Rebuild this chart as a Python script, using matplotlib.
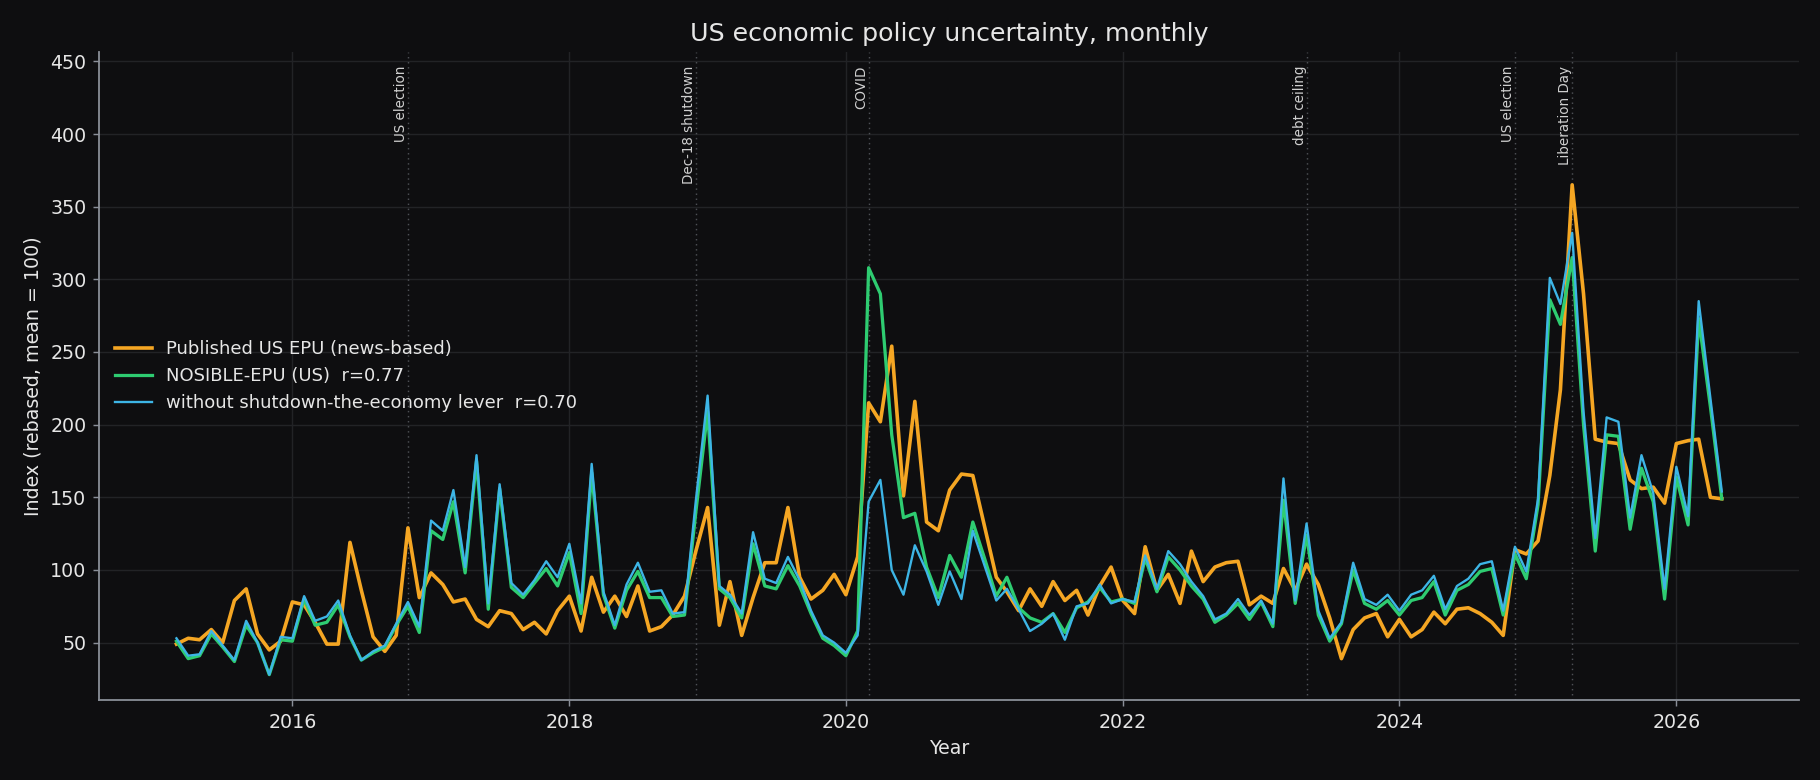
import matplotlib
matplotlib.use("Agg")
import matplotlib.pyplot as plt
import matplotlib.dates as mdates
import pandas as pd
import numpy as np

start_month = "2015-03-01"
n_months = 135

published_epu = [
    49, 53, 52, 59, 50, 79, 87, 56, 45, 51,
    78, 76, 64, 49, 49, 119, 86, 54, 44, 55, 129, 81,
    98, 90, 78, 80, 66, 61, 72, 70, 59, 64, 56, 72,
    82, 58, 95, 71, 82, 68, 89, 58, 61, 69, 82, 113,
    143, 62, 92, 55, 81, 105, 105, 143, 95, 80, 86, 97,
    83, 109, 215, 202, 254, 151, 216, 133, 127, 155, 166, 165,
    130, 95, 85, 72, 87, 75, 92, 79, 86, 69, 89, 102,
    79, 70, 116, 86, 97, 77, 113, 92, 102, 105, 106, 76,
    82, 77, 101, 86, 104, 90, 67, 39, 59, 67, 70, 54,
    66, 54, 59, 71, 63, 73, 74, 70, 64, 55, 114, 111,
    120, 165, 224, 365, 290, 190, 188, 187, 162, 156, 157, 146,
    187, 189, 190, 150, 149,
]

nosible_epu = [
    51, 39, 41, 56, 47, 37, 62, 50, 28, 52,
    51, 80, 62, 64, 76, 54, 38, 43, 47, 62, 75, 57,
    127, 121, 147, 98, 175, 73, 156, 88, 81, 91, 101, 89,
    112, 70, 167, 83, 60, 86, 99, 81, 81, 68, 69, 140,
    209, 87, 81, 67, 118, 89, 87, 103, 89, 70, 53, 48,
    41, 58, 308, 290, 193, 136, 139, 102, 81, 110, 95, 133,
    108, 82, 95, 74, 67, 64, 70, 57, 74, 78, 88, 78,
    80, 77, 108, 85, 109, 100, 89, 80, 64, 69, 77, 66,
    78, 61, 148, 77, 124, 69, 51, 63, 100, 77, 73, 79,
    69, 79, 81, 92, 69, 86, 90, 99, 101, 69, 111, 94,
    145, 286, 269, 315, 200, 113, 193, 192, 128, 170, 147, 80,
    164, 131, 273, 212, 149,
]

without_lever = [
    53, 41, 42, 58, 48, 38, 65, 50, 28, 54,
    53, 82, 65, 68, 79, 55, 38, 44, 48, 63, 78, 61,
    134, 127, 155, 102, 179, 77, 159, 91, 83, 93, 106, 95,
    118, 77, 173, 85, 62, 90, 105, 85, 86, 70, 71, 148,
    220, 89, 83, 70, 126, 94, 91, 109, 93, 72, 55, 50,
    43, 55, 147, 162, 100, 83, 117, 99, 76, 99, 80, 127,
    103, 79, 87, 73, 58, 63, 70, 52, 75, 77, 90, 77,
    80, 78, 110, 87, 113, 104, 92, 82, 66, 70, 80, 69,
    79, 63, 163, 79, 132, 72, 53, 64, 105, 80, 76, 83,
    72, 83, 86, 96, 73, 89, 94, 104, 106, 72, 116, 99,
    149, 301, 283, 332, 209, 122, 205, 202, 136, 179, 153, 87,
    171, 137, 285, 218, 154,
]

event_dates = ["2016-11-01", "2018-12-01", "2020-03-01", "2023-05-01", "2024-11-01", "2025-04-01"]
event_labels = ["US election", "Dec-18 shutdown", "COVID", "debt ceiling", "US election", "Liberation Day"]

series_labels = [
    "Published US EPU (news-based)",
    "NOSIBLE-EPU (US)  r=0.77",
    "without shutdown-the-economy lever  r=0.70",
]

BG = "#0e0e10"
FG = "#e6e6e6"
SPINE = "#8a8f98"
GRID = "#222326"

dates = pd.date_range(start_month, periods=n_months, freq="MS")

fig = plt.figure(figsize=(14, 6), dpi=130, facecolor=BG)
ax = fig.add_subplot(111)
ax.set_facecolor(BG)
fig.subplots_adjust(left=0.0545, right=0.9885, bottom=0.1025, top=0.933)

ax.plot(dates, published_epu, color="#f5a623", lw=2.0, label=series_labels[0], zorder=3)
ax.plot(dates, nosible_epu, color="#2ecc71", lw=1.8, label=series_labels[1], zorder=4)
ax.plot(dates, without_lever, color="#3db5e6", lw=1.3, label=series_labels[2], zorder=5)

ymax = max(max(published_epu), max(nosible_epu), max(without_lever)) * 1.25
ax.set_ylim(10.5, ymax)

for d, lab in zip(event_dates, event_labels):
    dt = pd.Timestamp(d)
    ax.axvline(dt, color="#5e6167", lw=0.8, ls=(0, (1, 2.5)), alpha=0.8, zorder=1)
    ax.text(dt, ymax * 0.98, lab, rotation=90, ha="right", va="top",
            fontsize=7.5, color="#d0d0d0", zorder=6)

ax.xaxis.set_major_locator(mdates.YearLocator(2))
ax.xaxis.set_major_formatter(mdates.DateFormatter("%Y"))
ax.set_yticks(np.arange(50, 451, 50))

ax.grid(True, color=GRID, lw=0.8, zorder=0)
ax.set_axisbelow(True)

for s in ["top", "right"]:
    ax.spines[s].set_visible(False)
for s in ["left", "bottom"]:
    ax.spines[s].set_color(SPINE)
    ax.spines[s].set_linewidth(1.0)

ax.tick_params(colors=SPINE, labelcolor=FG, labelsize=10.5)
ax.set_xlabel("Year", color=FG, fontsize=10.5)
ax.set_ylabel("Index (rebased, mean = 100)", color=FG, fontsize=10.5)
ax.set_title("US economic policy uncertainty, monthly", color=FG, fontsize=14)

leg = ax.legend(loc="center left", frameon=False, fontsize=10)
for t in leg.get_texts():
    t.set_color(FG)

fig.savefig("out.png", dpi=130, facecolor=BG)
